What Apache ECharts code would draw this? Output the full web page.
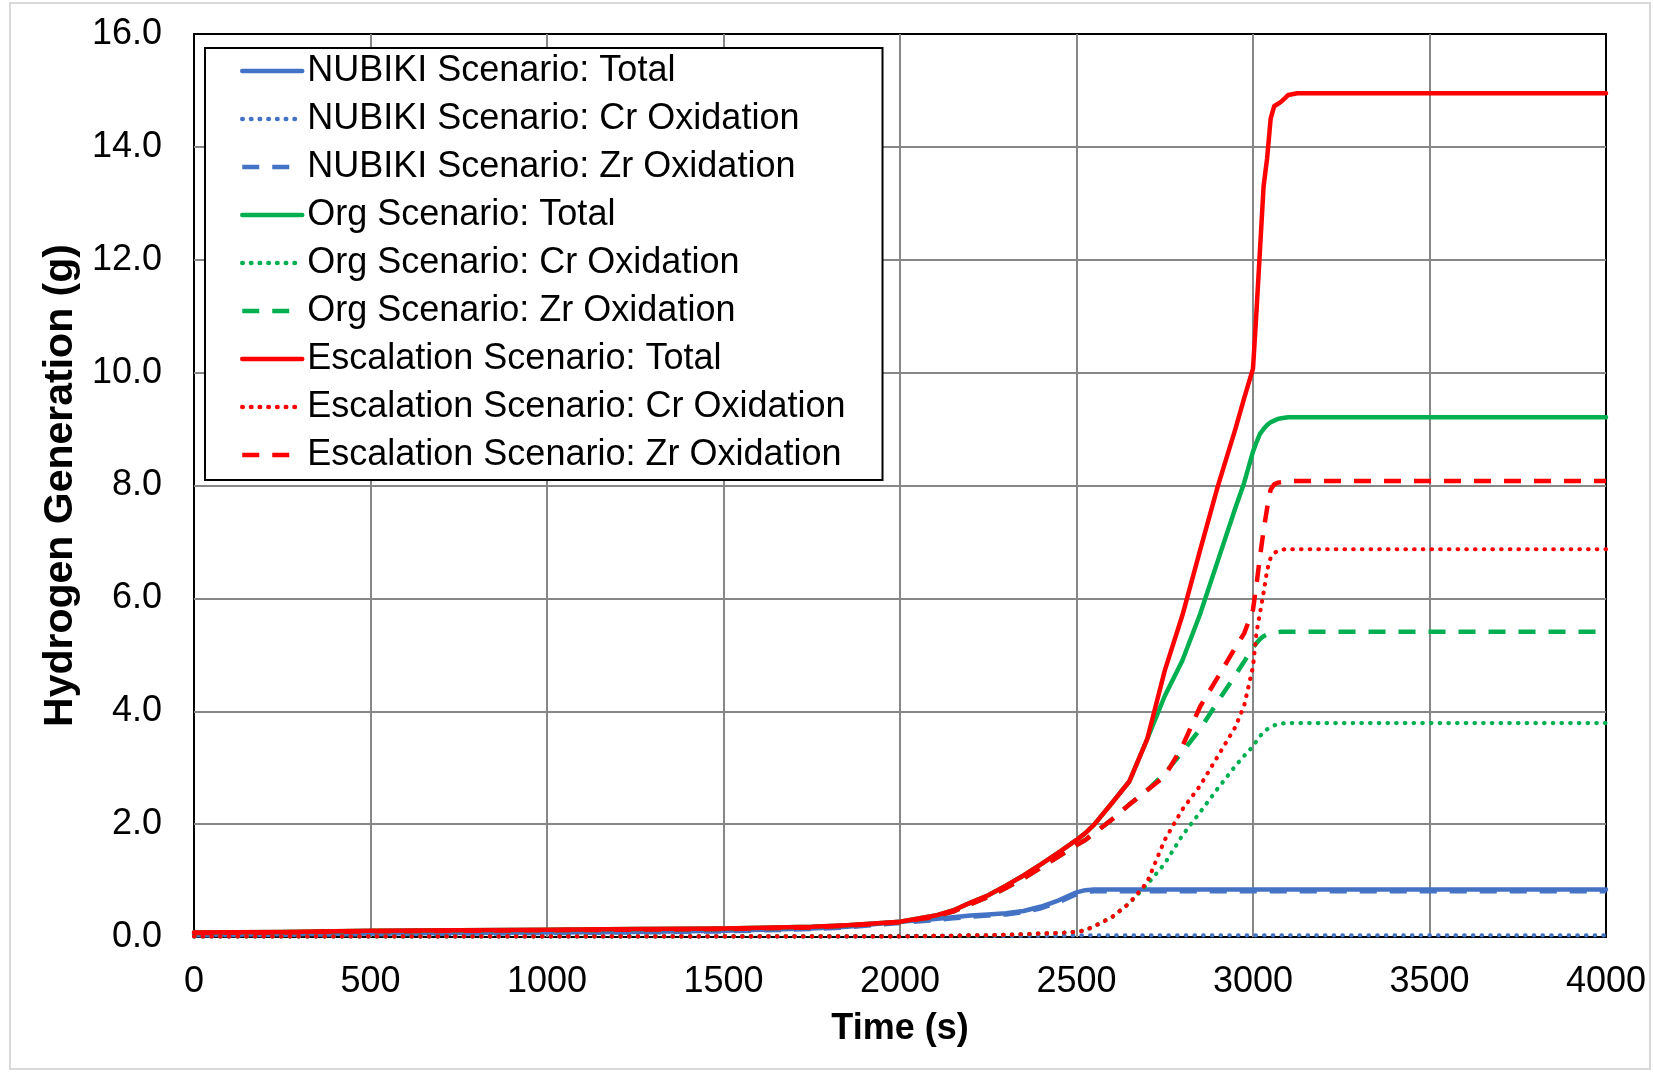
<!DOCTYPE html>
<html>
<head>
<meta charset="utf-8">
<script src="https://cdn.jsdelivr.net/npm/echarts@6/dist/echarts.min.js"></script>
<style>
html,body{margin:0;padding:0;background:#ffffff;}
#chart{width:1653px;height:1072px;}
</style>
</head>
<body>
<div id="chart"></div>
<script>
// ---- Data (time in s, hydrogen in g) ----
const time = [0, 250, 500, 750, 1000, 1250, 1500, 1750, 1850, 2000,
  2100, 2150, 2200, 2250, 2300, 2350, 2400, 2450, 2500, 2525,
  2550, 2600, 2650, 2700, 2750, 2800, 2850, 2900, 2950, 2975,
  3000, 3010, 3020, 3030, 3040, 3050, 3060, 3070, 3080, 3090,
  3100, 3125, 3150, 3200, 3500, 4000];

const nubikiTotal = [0.04, 0.05, 0.06, 0.07, 0.08, 0.09, 0.11, 0.15, 0.18, 0.27,
  0.32, 0.35, 0.38, 0.40, 0.42, 0.46, 0.54, 0.65, 0.79, 0.83,
  0.84, 0.84, 0.84, 0.84, 0.84, 0.84, 0.84, 0.84, 0.84, 0.84,
  0.84, 0.84, 0.84, 0.84, 0.84, 0.84, 0.84, 0.84, 0.84, 0.84,
  0.84, 0.84, 0.84, 0.84, 0.84, 0.84];
const nubikiCr = [0.01, 0.01, 0.01, 0.01, 0.01, 0.01, 0.01, 0.01, 0.01, 0.02,
  0.02, 0.02, 0.02, 0.02, 0.02, 0.02, 0.02, 0.02, 0.03, 0.03,
  0.03, 0.03, 0.03, 0.03, 0.03, 0.03, 0.03, 0.03, 0.03, 0.03,
  0.03, 0.03, 0.03, 0.03, 0.03, 0.03, 0.03, 0.03, 0.03, 0.03,
  0.03, 0.03, 0.03, 0.03, 0.03, 0.03];
const nubikiZr = [0.03, 0.04, 0.05, 0.06, 0.07, 0.08, 0.10, 0.14, 0.17, 0.25,
  0.30, 0.33, 0.36, 0.38, 0.40, 0.44, 0.51, 0.62, 0.76, 0.80,
  0.81, 0.81, 0.81, 0.81, 0.81, 0.81, 0.81, 0.81, 0.81, 0.81,
  0.81, 0.81, 0.81, 0.81, 0.81, 0.81, 0.81, 0.81, 0.81, 0.81,
  0.81, 0.81, 0.81, 0.81, 0.81, 0.81];

const orgTotal = [0.08, 0.09, 0.11, 0.12, 0.13, 0.14, 0.15, 0.18, 0.21, 0.27,
  0.38, 0.47, 0.61, 0.74, 0.91, 1.09, 1.29, 1.50, 1.72, 1.84,
  1.99, 2.37, 2.76, 3.50, 4.27, 4.90, 5.72, 6.66, 7.60, 8.05,
  8.60, 8.77, 8.92, 9.00, 9.07, 9.12, 9.15, 9.18, 9.19, 9.20,
  9.21, 9.21, 9.21, 9.21, 9.21, 9.21];
const orgCr = [0.01, 0.01, 0.01, 0.01, 0.01, 0.01, 0.01, 0.01, 0.01, 0.01,
  0.02, 0.02, 0.03, 0.03, 0.04, 0.05, 0.06, 0.07, 0.09, 0.12,
  0.19, 0.35, 0.60, 0.93, 1.30, 1.80, 2.21, 2.63, 3.03, 3.21,
  3.38, 3.47, 3.56, 3.63, 3.68, 3.72, 3.75, 3.77, 3.78, 3.79,
  3.79, 3.79, 3.79, 3.79, 3.79, 3.79];
const orgZr = [0.07, 0.08, 0.10, 0.11, 0.12, 0.13, 0.14, 0.17, 0.20, 0.26,
  0.36, 0.45, 0.58, 0.71, 0.87, 1.04, 1.23, 1.43, 1.63, 1.72,
  1.84, 2.08, 2.35, 2.60, 2.90, 3.28, 3.68, 4.17, 4.64, 4.88,
  5.13, 5.21, 5.28, 5.33, 5.36, 5.38, 5.39, 5.40, 5.41, 5.41,
  5.41, 5.41, 5.41, 5.41, 5.41, 5.41];

const escTotal = [0.08, 0.09, 0.11, 0.12, 0.13, 0.14, 0.15, 0.18, 0.21, 0.27,
  0.38, 0.47, 0.61, 0.74, 0.91, 1.09, 1.29, 1.50, 1.72, 1.84,
  1.99, 2.37, 2.76, 3.50, 4.72, 5.70, 6.85, 7.98, 9.00, 9.55,
  10.07, 11.10, 12.20, 13.30, 13.80, 14.50, 14.72, 14.76, 14.80, 14.86,
  14.92, 14.95, 14.95, 14.95, 14.95, 14.95];
const escCr = [0.01, 0.01, 0.01, 0.01, 0.01, 0.01, 0.01, 0.01, 0.01, 0.01,
  0.02, 0.02, 0.03, 0.03, 0.04, 0.05, 0.06, 0.07, 0.09, 0.12,
  0.19, 0.35, 0.60, 0.97, 1.72, 2.26, 2.68, 3.20, 3.72, 4.10,
  4.79, 5.40, 5.75, 6.10, 6.50, 6.72, 6.80, 6.84, 6.86, 6.87,
  6.87, 6.87, 6.87, 6.87, 6.87, 6.87];
const escZr = [0.07, 0.08, 0.10, 0.11, 0.12, 0.13, 0.14, 0.17, 0.20, 0.26,
  0.36, 0.45, 0.58, 0.71, 0.87, 1.04, 1.23, 1.43, 1.63, 1.72,
  1.84, 2.08, 2.35, 2.60, 2.85, 3.38, 4.08, 4.60, 5.13, 5.38,
  5.80, 6.25, 6.75, 7.20, 7.60, 7.93, 8.02, 8.05, 8.06, 8.07,
  8.08, 8.08, 8.08, 8.08, 8.08, 8.08];

const seriesNames = [
  'NUBIKI Scenario: Total', 'NUBIKI Scenario: Cr Oxidation', 'NUBIKI Scenario: Zr Oxidation',
  'Org Scenario: Total', 'Org Scenario: Cr Oxidation', 'Org Scenario: Zr Oxidation',
  'Escalation Scenario: Total', 'Escalation Scenario: Cr Oxidation', 'Escalation Scenario: Zr Oxidation'
];
const seriesValues = [nubikiTotal, nubikiCr, nubikiZr, orgTotal, orgCr, orgZr, escTotal, escCr, escZr];

// ---- Styles ----
const colors = ['#4472C4', '#4472C4', '#4472C4', '#00B050', '#00B050', '#00B050', '#FF0000', '#FF0000', '#FF0000'];
const styleKinds = ['solid', 'dot', 'dash', 'solid', 'dot', 'dash', 'solid', 'dot', 'dash'];
const FONT = '"Liberation Sans", Arial, sans-serif';

function lineStyleFor(kind, color) {
  if (kind === 'dot') return { color: color, width: 4.2, type: [0.5, 8.2], cap: 'round' };
  if (kind === 'dash') return { color: color, width: 4.5, type: [17, 13], cap: 'butt' };
  return { color: color, width: 4.5, type: 'solid', cap: 'round', join: 'round' };
}

const series = seriesNames.map((name, i) => ({
  name: name,
  type: 'line',
  data: time.map((t, k) => [t, seriesValues[i][k]]),
  showSymbol: false,
  symbol: 'none',
  smooth: false,
  lineStyle: lineStyleFor(styleKinds[i], colors[i]),
  itemStyle: { color: colors[i] },
  emphasis: { disabled: true },
  z: 3
}));

const chart = echarts.init(document.getElementById('chart'), null, { renderer: 'canvas' });
chart.setOption({
  animation: false,
  backgroundColor: '#ffffff',
  graphic: [{
    type: 'rect',
    shape: { x: 10, y: 3, width: 1640, height: 1066 },
    style: { fill: 'none', stroke: '#d9d9d9', lineWidth: 2 },
    silent: true,
    z: -10
  }],
  grid: {
    left: 194, right: 47, top: 34, bottom: 135,
    show: true, borderColor: '#000000', borderWidth: 2, backgroundColor: 'transparent'
  },
  legend: {
    orient: 'vertical',
    left: 205, top: 48,
    padding: [3, 37, 5, 35],
    itemGap: 8,
    itemWidth: 60,
    itemHeight: 14,
    borderColor: '#000000',
    borderWidth: 2,
    backgroundColor: '#ffffff',
    itemStyle: { opacity: 0, borderWidth: 0 },
    lineStyle: { width: 4.5 },
    textStyle: { fontFamily: FONT, fontSize: 36, color: '#000000', lineHeight: 40 },
    data: seriesNames
  },
  xAxis: {
    type: 'value',
    min: 0, max: 4000, interval: 500,
    name: 'Time (s)',
    nameLocation: 'middle',
    nameGap: 74,
    nameTextStyle: { fontFamily: FONT, fontSize: 36, fontWeight: 'bold', color: '#000000' },
    axisLine: { show: false },
    axisTick: { show: false },
    axisLabel: { fontFamily: FONT, fontSize: 36, color: '#000000', margin: 27, formatter: v => String(v) },
    splitLine: { show: true, showMinLine: false, showMaxLine: false, lineStyle: { color: '#878787', width: 2 } }
  },
  yAxis: {
    type: 'value',
    min: 0, max: 16, interval: 2,
    name: 'Hydrogen Generation (g)',
    nameLocation: 'middle',
    nameGap: 106,
    nameTextStyle: { fontFamily: FONT, fontSize: 41, fontWeight: 'bold', color: '#000000' },
    axisLine: { show: false },
    axisTick: { show: false },
    axisLabel: { fontFamily: FONT, fontSize: 36, color: '#000000', margin: 32, formatter: v => v.toFixed(1) },
    splitLine: { show: true, showMinLine: false, showMaxLine: false, lineStyle: { color: '#878787', width: 2 } }
  },
  series: series
});
</script>
</body>
</html>
